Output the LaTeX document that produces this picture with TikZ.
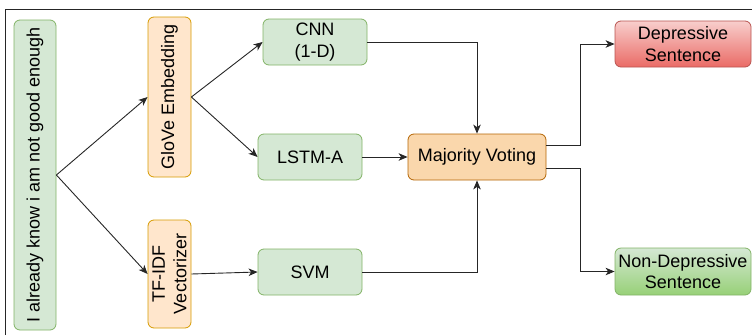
\documentclass[tikz,border=0pt]{standalone}
\usepackage{fontspec}
\setmainfont{Liberation Sans}
\usetikzlibrary{arrows.meta,calc}
\definecolor{gfill}{HTML}{D5E8D4}
\definecolor{gdraw}{HTML}{82B366}
\definecolor{ofill}{HTML}{FFE6CC}
\definecolor{odraw}{HTML}{D79B00}
\definecolor{mfill}{HTML}{FAD7AC}
\definecolor{mdraw}{HTML}{B46504}
\definecolor{rtop}{HTML}{F8CECC}
\definecolor{rbot}{HTML}{EA6B66}
\definecolor{rdraw}{HTML}{B85450}
\definecolor{gbot}{HTML}{97D077}
\begin{document}
\begin{tikzpicture}[x=1pt,y=-1pt,
  box/.style={draw, rounded corners=6pt, line width=0.8pt, inner sep=0pt, align=center,
    font=\fontsize{18}{21.5}\selectfont},
  greenbox/.style={box, fill=gfill, draw=gdraw},
  orangebox/.style={box, fill=ofill, draw=odraw},
  mvbox/.style={box, fill=mfill, draw=mdraw},
  redbox/.style={box, top color=rtop, bottom color=rbot, draw=rdraw},
  gradgreen/.style={box, top color=gfill, bottom color=gbot, draw=gdraw},
  arr/.style={-{Stealth[length=9pt,width=7.5pt,inset=2.5pt]}, line width=0.9pt, black!85}
]
\useasboundingbox (0,0) rectangle (752,335);
\draw[line width=1pt, black!85] (5,335) -- (5,9) -- (752,9);

\node[greenbox, rotate=90, minimum width=310pt, minimum height=42pt] (inp) at (35,175) {I already know i am not good enough};
\node[orangebox, rotate=90, minimum width=160pt, minimum height=43pt] (glove) at (169.5,97) {GloVe Embedding};
\node[orangebox, rotate=90, minimum width=108pt, minimum height=43pt] (tfidf) at (169.5,274) {TF-IDF\\Vectorizer};
\node[greenbox, minimum width=104pt, minimum height=46pt] (cnn) at (315,42) {CNN\\(1-D)};
\node[greenbox, minimum width=104pt, minimum height=46pt] (lstm) at (310,157) {LSTM-A};
\node[greenbox, minimum width=104pt, minimum height=46pt] (svm) at (310,272) {SVM};
\node[mvbox, minimum width=138pt, minimum height=46pt] (mv) at (477,157) {Majority Voting};
\node[redbox, minimum width=136pt, minimum height=46pt] (dep) at (683,44) {Depressive\\Sentence};
\node[gradgreen, minimum width=136pt, minimum height=47pt] (nondep) at (683,271.5) {Non-Depressive\\Sentence};

\coordinate (jx) at (580,0);

\draw[arr] (inp.south) -- (glove.north);
\draw[arr] (inp.south) -- (tfidf.north);
\draw[arr] (glove.south) -- (cnn.west);
\draw[arr] (glove.south) -- (lstm.west);
\draw[arr] (tfidf.south) -- (svm.west);
\draw[arr] (cnn.east) -| (mv.north);
\draw[arr] (lstm.east) -- (mv.west);
\draw[arr] (svm.east) -| (mv.south);
\draw[arr] ($(mv.east)+(0,-12)$) -| (jx |- dep.west) -- (dep.west);
\draw[arr] ($(mv.east)+(0,11)$) -| (jx |- nondep.west) -- (nondep.west);
\end{tikzpicture}
\end{document}
